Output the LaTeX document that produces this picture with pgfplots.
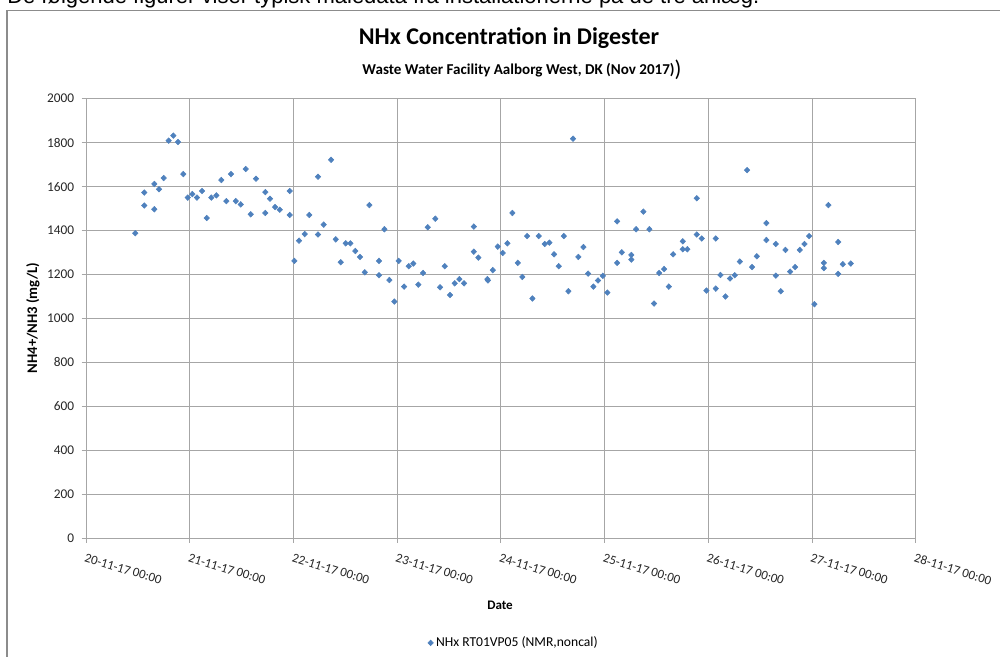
\documentclass[border=0pt]{standalone}
\usepackage{fontspec}
\setmainfont{Carlito}
\newfontfamily\arialfont{Liberation Sans}
\usepackage{pgfplots}
\pgfplotsset{compat=1.18}
\definecolor{exblue}{HTML}{4F81BD}
\definecolor{gridgray}{HTML}{A6A6A6}
\definecolor{framegray}{HTML}{8C8C8C}

\pgfplotstableread{
day val
0.475 1388
0.562 1573
0.562 1514
0.659 1612
0.659 1497
0.704 1588
0.749 1639
0.797 1809
0.842 1832
0.887 1803
0.938 1657
0.981 1550
1.025 1566
1.070 1550
1.119 1580
1.164 1457
1.208 1550
1.257 1560
1.305 1630
1.353 1534
1.398 1657
1.444 1534
1.492 1519
1.540 1680
1.588 1474
1.639 1636
1.729 1575
1.729 1480
1.774 1545
1.823 1507
1.868 1495
1.964 1580
1.964 1471
2.009 1262
2.054 1354
2.109 1384
2.153 1471
2.237 1382
2.237 1645
2.292 1427
2.363 1722
2.408 1360
2.456 1256
2.504 1342
2.549 1342
2.597 1307
2.642 1280
2.688 1210
2.732 1516
2.825 1262
2.825 1197
2.877 1406
2.925 1175
2.973 1077
3.015 1262
3.067 1145
3.112 1238
3.156 1250
3.204 1154
3.250 1207
3.295 1415
3.368 1454
3.414 1142
3.459 1238
3.510 1107
3.555 1160
3.600 1179
3.645 1160
3.739 1418
3.739 1304
3.783 1277
3.870 1179
3.875 1173
3.922 1220
3.970 1327
4.018 1298
4.063 1342
4.111 1480
4.163 1253
4.207 1189
4.253 1375
4.304 1091
4.365 1375
4.423 1339
4.468 1345
4.513 1292
4.558 1238
4.607 1375
4.651 1124
4.696 1818
4.747 1280
4.796 1325
4.841 1204
4.892 1145
4.937 1173
4.983 1194
5.027 1118
5.121 1442
5.121 1253
5.166 1301
5.258 1289
5.258 1268
5.304 1406
5.374 1486
5.432 1406
5.477 1068
5.526 1207
5.574 1225
5.619 1145
5.661 1292
5.754 1351
5.754 1315
5.798 1315
5.889 1547
5.889 1382
5.937 1364
5.982 1127
6.072 1364
6.072 1136
6.117 1198
6.165 1100
6.210 1182
6.255 1197
6.304 1259
6.374 1675
6.422 1234
6.468 1283
6.560 1434
6.560 1357
6.651 1339
6.651 1195
6.699 1124
6.744 1312
6.789 1213
6.837 1234
6.882 1312
6.927 1339
6.972 1375
7.023 1065
7.114 1253
7.114 1229
7.158 1516
7.252 1348
7.252 1203
7.297 1247
7.374 1250
}\nhxdata

\begin{document}
\begin{tikzpicture}
\path[use as bounding box, clip] (0pt,0pt) rectangle (750pt,492.75pt);
\begin{scope}[x=0.75pt,y=0.75pt]
  % surrounding text line (cut off at top)
  \node[anchor=base west, inner sep=0pt, font=\arialfont\fontsize{16.5}{18}\selectfont] at (7,653.5)
    {De følgende figurer viser typisk måledata fra installationerne på de tre anlæg.};
  % chart frame
  \draw[framegray, line width=1pt] (7,-10) -- (7,646.3) -- (1010,646.3);
  % titles
  \node[font=\fontsize{18}{20}\selectfont\bfseries] at (509,619) {NHx Concentration in Digester};
  \node[font=\fontsize{11.3}{13}\selectfont\bfseries] at (522,587)
    {Waste Water Facility Aalborg West, DK (Nov 2017)\raisebox{-0.25ex}{\fontsize{17}{19}\selectfont\mdseries)}};
\end{scope}

\begin{axis}[
  at={(64.5pt,89.03pt)}, anchor=south west,
  scale only axis, width=622.3pt, height=329.7pt,
  xmin=0, xmax=8, ymin=0, ymax=2000,
  xtick={0,1,2,3,4,5,6,7,8},
  xticklabels={20-11-17 00:00,21-11-17 00:00,22-11-17 00:00,23-11-17 00:00,24-11-17 00:00,25-11-17 00:00,26-11-17 00:00,27-11-17 00:00,28-11-17 00:00},
  ytick={0,200,...,2000},
  grid=major,
  major grid style={gridgray, line width=0.75pt},
  axis x line*=bottom, axis y line*=left,
  axis line style={gridgray, line width=0.75pt},
  tick style={gridgray, line width=0.75pt},
  tick align=outside,
  major tick length=3.2pt,
  /pgf/number format/assume math mode=true,
  /pgf/number format/1000 sep={},
  yticklabel style={font=\fontsize{10}{12}\selectfont, text=black!85, xshift=-2.2pt},
  xticklabel style={font=\fontsize{9.7}{11}\selectfont, text=black!85, rotate=-17, anchor=north west, xshift=-1pt, yshift=-4pt},
  xlabel={Date},
  xlabel style={font=\fontsize{9.8}{11}\selectfont\bfseries, at={(axis description cs:0.499,-0.152)}, anchor=center},
  ylabel={NH4+/NH3 (mg/L)},
  ylabel style={font=\fontsize{11}{13}\selectfont\bfseries, at={(axis description cs:-0.064,0.501)}, anchor=center, rotate=0},
  legend style={at={(0.516,-0.238)}, anchor=center, draw=none, fill=none, font=\fontsize{10.2}{12}\selectfont, inner sep=1pt},
  legend cell align=left,
  clip=false,
]
\addplot[only marks, mark=diamond*, mark size=2.1pt, color=exblue, mark options={xscale=1.3, fill=exblue, draw=exblue}]
  table[x=day, y=val] {\nhxdata};
\addlegendentry{NHx RT01VP05 (NMR,noncal)}
\end{axis}
\end{tikzpicture}
\end{document}
